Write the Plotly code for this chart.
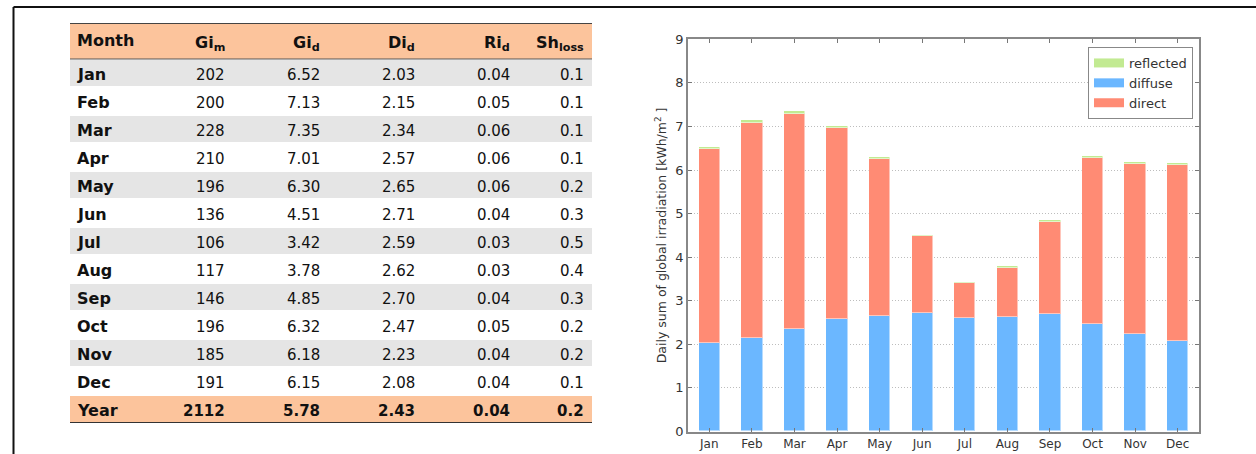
import plotly.graph_objects as go

months = ["Jan", "Feb", "Mar", "Apr", "May", "Jun", "Jul", "Aug", "Sep", "Oct", "Nov", "Dec"]
gi_m = [202, 200, 228, 210, 196, 136, 106, 117, 146, 196, 185, 191]
gi_d = [6.52, 7.13, 7.35, 7.01, 6.30, 4.51, 3.42, 3.78, 4.85, 6.32, 6.18, 6.15]
di_d = [2.03, 2.15, 2.34, 2.57, 2.65, 2.71, 2.59, 2.62, 2.70, 2.47, 2.23, 2.08]
ri_d = [0.04, 0.05, 0.06, 0.06, 0.06, 0.04, 0.03, 0.03, 0.04, 0.05, 0.04, 0.04]
sh_loss = [0.1, 0.1, 0.1, 0.1, 0.2, 0.3, 0.5, 0.4, 0.3, 0.2, 0.2, 0.1]
year_row = ["Year", "2112", "5.78", "2.43", "0.04", "0.2"]
header_labels = ["Month", "Gi<sub>m</sub>", "Gi<sub>d</sub>", "Di<sub>d</sub>",
                 "Ri<sub>d</sub>", "Sh<sub>loss</sub>"]

# chart series (kWh/m2 per day)
diffuse = di_d
direct = [4.45, 4.93, 4.95, 4.38, 3.59, 1.76, 0.80, 1.13, 2.11, 3.80, 3.91, 4.03]
reflected = ri_d

W, H = 1256, 454
def px(x): return x / W
def py(y): return 1 - y / H

C_DIRECT = "#ff8b74"
C_DIFFUSE = "#6bb7ff"
C_REFL = "#c2ea92"
PEACH = "#fcc49c"
GRAY = "#e5e5e5"
TXT = "#111111"
FONT = "DejaVu Sans"

fig = go.Figure()

# ---------------- table (drawn on its own hidden axes) ----------------
HH = 36 / 28           # header height in row units
TBL_W = 522            # table width in axis units
col_right = [None, 157, 252, 347, 442, 516]   # right edges of numeric text
month_left = 5

columns = [
    months + [year_row[0]],
    [str(v) for v in gi_m] + [year_row[1]],
    [f"{v:.2f}" for v in gi_d] + [year_row[2]],
    [f"{v:.2f}" for v in di_d] + [year_row[3]],
    [f"{v:.2f}" for v in ri_d] + [year_row[4]],
    [f"{v:.1f}" for v in sh_loss] + [year_row[5]],
]
n_rows = len(columns[0])

fig.add_trace(go.Scatter(x=[0, TBL_W], y=[0, HH + n_rows], xaxis="x2", yaxis="y2",
                         mode="markers", marker=dict(opacity=0), showlegend=False,
                         hoverinfo="skip"))

shapes = []
annotations = []
# header background
shapes.append(dict(type="rect", xref="x2", yref="y2", x0=0, x1=TBL_W, y0=0, y1=HH,
                   fillcolor=PEACH, line=dict(width=0), layer="below"))
for r in range(n_rows):
    fill = PEACH if r == n_rows - 1 else (GRAY if r % 2 == 0 else "white")
    shapes.append(dict(type="rect", xref="x2", yref="y2", x0=0, x1=TBL_W,
                       y0=HH + r + 0.04, y1=HH + r + 0.96 if r < n_rows - 1 else HH + r + 1,
                       fillcolor=fill, line=dict(width=0), layer="below"))

# header text
for c, lab in enumerate(header_labels):
    if c == 0:
        annotations.append(dict(xref="x2", yref="y2", x=month_left, y=HH / 2 - 0.02,
                                text=f"<b>{lab}</b>", showarrow=False, xanchor="left",
                                yanchor="middle", font=dict(family=FONT, size=16, color=TXT)))
    else:
        annotations.append(dict(xref="x2", yref="y2", x=col_right[c], y=HH / 2 + 0.08,
                                text=f"<b>{lab}</b>", showarrow=False, xanchor="right",
                                yanchor="middle", font=dict(family=FONT, size=16, color=TXT)))

# body text
for c, col in enumerate(columns):
    for r, val in enumerate(col):
        bold = (c == 0) or (r == n_rows - 1)
        txt = f"<b>{val}</b>" if bold else val
        size = 16 if c == 0 else 15
        annotations.append(dict(
            xref="x2", yref="y2",
            x=month_left if c == 0 else col_right[c], y=HH + r + 0.57,
            text=txt, showarrow=False,
            xanchor="left" if c == 0 else "right", yanchor="middle",
            font=dict(family=FONT, size=size, color=TXT)))

# table rules
shapes += [
    dict(type="line", xref="x2", yref="y2", x0=0, x1=TBL_W, y0=0, y1=0,
         line=dict(color="#444", width=2)),
    dict(type="line", xref="x2", yref="y2", x0=0, x1=TBL_W, y0=HH, y1=HH,
         line=dict(color="#555", width=1)),
    dict(type="line", xref="x2", yref="y2", x0=0, x1=TBL_W, y0=HH + n_rows, y1=HH + n_rows,
         line=dict(color="#333", width=2)),
]
# page frame
shapes += [
    dict(type="line", xref="paper", yref="paper", x0=px(13.5), x1=px(13.5), y0=0, y1=py(7),
         line=dict(color="#111", width=2)),
    dict(type="line", xref="paper", yref="paper", x0=px(13.5), x1=1, y0=py(7), y1=py(7),
         line=dict(color="#111", width=2)),
]

# ---------------- bars ----------------
x_idx = list(range(12))
edge = dict(color="rgba(255,255,255,0.5)", width=1)
fig.add_trace(go.Bar(x=x_idx, y=diffuse, name="diffuse", marker_color=C_DIFFUSE,
                     width=0.5, marker_line=edge, showlegend=False))
fig.add_trace(go.Bar(x=x_idx, y=direct, name="direct", marker_color=C_DIRECT,
                     width=0.5, marker_line=edge, showlegend=False))
fig.add_trace(go.Bar(x=x_idx, y=reflected, name="reflected", marker_color=C_REFL,
                     width=0.5, marker_line=edge, showlegend=False))

# legend entries (wide patch swatches as in the reference)
for nm, colr, rank in [("reflected", C_REFL, 1), ("diffuse", C_DIFFUSE, 2), ("direct", C_DIRECT, 3)]:
    fig.add_trace(go.Scatter(x=[None], y=[None], mode="lines", name=nm,
                             line=dict(color=colr, width=9), legendrank=rank))

fig.update_layout(
    width=W, height=H, margin=dict(l=0, r=0, t=0, b=0, autoexpand=False),
    paper_bgcolor="white", plot_bgcolor="rgba(0,0,0,0)",
    barmode="stack", bargap=0,
    showlegend=True,
    legend=dict(x=px(1193), y=py(47), xanchor="right", yanchor="top",
                traceorder="normal",
                bordercolor="#888", borderwidth=1, bgcolor="white",
                font=dict(family=FONT, size=13, color="#333"),
                itemwidth=30),
    xaxis=dict(domain=[px(688), px(1199)], range=[-0.5, 11.5],
               tickmode="array", tickvals=x_idx, ticktext=months,
               ticks="inside", ticklen=4, tickcolor="#777", mirror="ticks",
               showline=True, linecolor="#888", linewidth=1.5,
               showgrid=False, zeroline=False, automargin=False,
               tickfont=dict(family=FONT, size=12, color="#333")),
    yaxis=dict(domain=[py(431.5), py(39.3)], range=[0, 9], dtick=1,
               ticks="inside", ticklen=4, tickcolor="#777", mirror="ticks",
               showline=True, linecolor="#888", linewidth=1.5,
               showgrid=True, gridcolor="#bdbdbd", griddash="1px,2px", gridwidth=1,
               zeroline=False, automargin=False,
               tickfont=dict(family=FONT, size=13, color="#333"),
               title=dict(text="Daily sum of global irradiation [kWh/m<sup>2</sup> ]",
                          font=dict(family=FONT, size=12.5, color="#333"),
                          standoff=6)),
    xaxis2=dict(domain=[px(70), px(592)], range=[0, TBL_W], visible=False,
                anchor="y2", fixedrange=True),
    yaxis2=dict(domain=[py(423), py(23)], range=[HH + n_rows, 0], visible=False,
                anchor="x2", fixedrange=True),
    shapes=shapes,
    annotations=annotations,
)

fig.write_html("out.html", config={"displayModeBar": False},
               post_script="document.body.style.margin='0px';")
